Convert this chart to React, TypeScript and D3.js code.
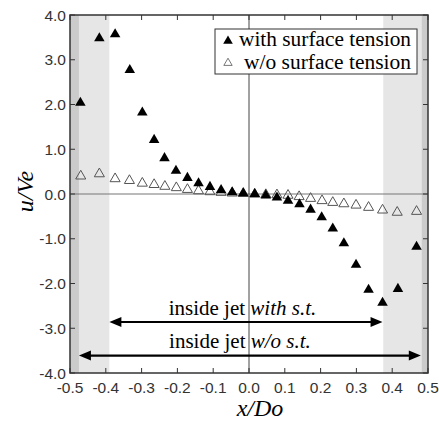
import React from 'react';
import * as d3 from 'd3';

const width = 439;
const height = 422;
const margin = { top: 15, right: 11, bottom: 49, left: 70 };

// with surface tension (filled)
const withX = [-0.471, -0.418, -0.374, -0.333, -0.298, -0.265, -0.236, -0.204, -0.172, -0.141, -0.109, -0.078, -0.047, -0.016,
  0.016, 0.047, 0.078, 0.109, 0.141, 0.172, 0.203, 0.234, 0.265, 0.299, 0.334, 0.373, 0.416, 0.468];
const withY = [2.04, 3.48, 3.57, 2.77, 1.82, 1.21, 0.80, 0.52, 0.36, 0.24, 0.16, 0.09, 0.04, 0.015,
  0.0, -0.03, -0.08, -0.15, -0.23, -0.35, -0.52, -0.77, -1.10, -1.58, -2.14, -2.43, -2.12, -1.18];

// without surface tension (open)
const woX = [-0.470, -0.418, -0.374, -0.334, -0.298, -0.265, -0.235, -0.203, -0.172, -0.141, -0.109, -0.078, -0.047, -0.016,
  0.016, 0.047, 0.078, 0.109, 0.140, 0.172, 0.204, 0.234, 0.265, 0.299, 0.334, 0.373, 0.414, 0.468];
const woY = [0.40, 0.45, 0.34, 0.30, 0.24, 0.21, 0.17, 0.14, 0.10, 0.07, 0.05, 0.035, 0.02, 0.01,
  -0.005, -0.015, -0.02, -0.03, -0.06, -0.10, -0.15, -0.19, -0.22, -0.25, -0.30, -0.36, -0.41, -0.39];

const xTicks = [-0.5, -0.4, -0.3, -0.2, -0.1, 0.0, 0.1, 0.2, 0.3, 0.4, 0.5];
const yTicks = [4, 3, 2, 1, 0, -1, -2, -3, -4];

// shaded bands and jet extents
const outerBands = [[-0.5, -0.475], [0.482, 0.5]];
const innerBands = [[-0.475, -0.39], [0.375, 0.482]];
const jetWith = [-0.39, 0.373, -2.86];
const jetWo = [-0.475, 0.48, -3.61];

const x = d3.scaleLinear().domain([-0.5, 0.5]).range([margin.left, width - margin.right]);
const y = d3.scaleLinear().domain([-4, 4]).range([height - margin.bottom, margin.top]);

const triFilled = d3.symbol(d3.symbolTriangle, 48)()!;
const triOpen = d3.symbol(d3.symbolTriangle, 44)()!;

const serif = '"Liberation Serif", "Times New Roman", serif';
const sans = '"Liberation Sans", Arial, sans-serif';

function Arrow({ x0, x1, yv }: { x0: number; x1: number; yv: number }) {
  const a = x(x0), b = x(x1), c = y(yv);
  const L = 12, H = 5;
  return (
    <g>
      <line x1={a + L - 1} x2={b - L + 1} y1={c} y2={c} stroke="#000" strokeWidth={2.2} />
      <path d={`M${a},${c}L${a + L},${c - H}L${a + L},${c + H}Z`} fill="#000" />
      <path d={`M${b},${c}L${b - L},${c - H}L${b - L},${c + H}Z`} fill="#000" />
    </g>
  );
}

export default function App() {
  const x0 = x(-0.5), x1 = x(0.5), y0 = y(-4), y1 = y(4);
  return (
    <svg width={width} height={height} style={{ position: 'absolute', left: 0, top: 0, background: '#fff' }}>
      {innerBands.map((b, i) => (
        <rect key={'ib' + i} x={x(b[0])} y={y1} width={x(b[1]) - x(b[0])} height={y0 - y1} fill="#e6e6e6" />
      ))}
      {outerBands.map((b, i) => (
        <rect key={'ob' + i} x={x(b[0])} y={y1} width={x(b[1]) - x(b[0])} height={y0 - y1} fill="#cbcbcb" />
      ))}

      {/* zero lines */}
      <line x1={x0} x2={x1} y1={y(0)} y2={y(0)} stroke="#777" strokeWidth={1.2} />
      <line x1={x(0)} x2={x(0)} y1={y1} y2={y0} stroke="#444" strokeWidth={1} />

      {/* ticks */}
      {xTicks.map((t) => (
        <g key={'xt' + t}>
          <line x1={x(t)} x2={x(t)} y1={y0} y2={y0 - 5} stroke="#333" strokeWidth={1} />
          <line x1={x(t)} x2={x(t)} y1={y1} y2={y1 + 5} stroke="#333" strokeWidth={1} />
          <text x={x(t)} y={392.5} textAnchor="middle" fontFamily={sans} fontSize={15.5} fill="#333">
            {t.toFixed(1)}
          </text>
        </g>
      ))}
      {yTicks.map((t) => (
        <g key={'yt' + t}>
          <line x1={x0} x2={x0 + 5} y1={y(t)} y2={y(t)} stroke="#333" strokeWidth={1} />
          <line x1={x1} x2={x1 - 5} y1={y(t)} y2={y(t)} stroke="#333" strokeWidth={1} />
          <text x={66} y={y(t) + 5.5} textAnchor="end" fontFamily={sans} fontSize={15.5} fill="#333">
            {t.toFixed(1)}
          </text>
        </g>
      ))}

      {/* data */}
      {woX.map((v, i) => (
        <path key={'o' + i} d={triOpen} transform={`translate(${x(v)},${y(woY[i])})`} fill="none" stroke="#555" strokeWidth={1} />
      ))}
      {withX.map((v, i) => (
        <path key={'f' + i} d={triFilled} transform={`translate(${x(v)},${y(withY[i])})`} fill="#000" />
      ))}

      {/* jet extents */}
      <Arrow x0={jetWith[0]} x1={jetWith[1]} yv={jetWith[2]} />
      <Arrow x0={jetWo[0]} x1={jetWo[1]} yv={jetWo[2]} />
      <text x={242.5} y={315} textAnchor="middle" fontFamily={serif} fontSize={21} fill="#000">
        inside jet <tspan fontStyle="italic">with s.t.</tspan>
      </text>
      <text x={240} y={347.5} textAnchor="middle" fontFamily={serif} fontSize={21} fill="#000">
        inside jet <tspan fontStyle="italic">w/o s.t.</tspan>
      </text>

      {/* legend */}
      <rect x={215} y={29} width={202} height={45} fill="#fff" stroke="#333" strokeWidth={1} />
      <path d={d3.symbol(d3.symbolTriangle, 40)()!} transform="translate(228,41)" fill="#000" />
      <path d={d3.symbol(d3.symbolTriangle, 30)()!} transform="translate(228,63)" fill="none" stroke="#555" strokeWidth={0.8} />
      <text x={239} y={46} fontFamily={serif} fontSize={20} textLength={172} lengthAdjust="spacingAndGlyphs" fill="#000">with surface tension</text>
      <text x={244} y={68.5} fontFamily={serif} fontSize={20} textLength={167} lengthAdjust="spacingAndGlyphs" fill="#000">w/o surface tension</text>

      {/* frame */}
      <rect x={x0} y={y1} width={x1 - x0} height={y0 - y1} fill="none" stroke="#333" strokeWidth={1.5} />

      {/* axis titles */}
      <text x={260} y={416} textAnchor="middle" fontFamily={serif} fontStyle="italic" fontSize={24} fill="#000">x/Do</text>
      <text transform="translate(33,191.5) rotate(-90)" textAnchor="middle" fontFamily={serif} fontStyle="italic" fontSize={24} fill="#000">u/Ve</text>
    </svg>
  );
}
